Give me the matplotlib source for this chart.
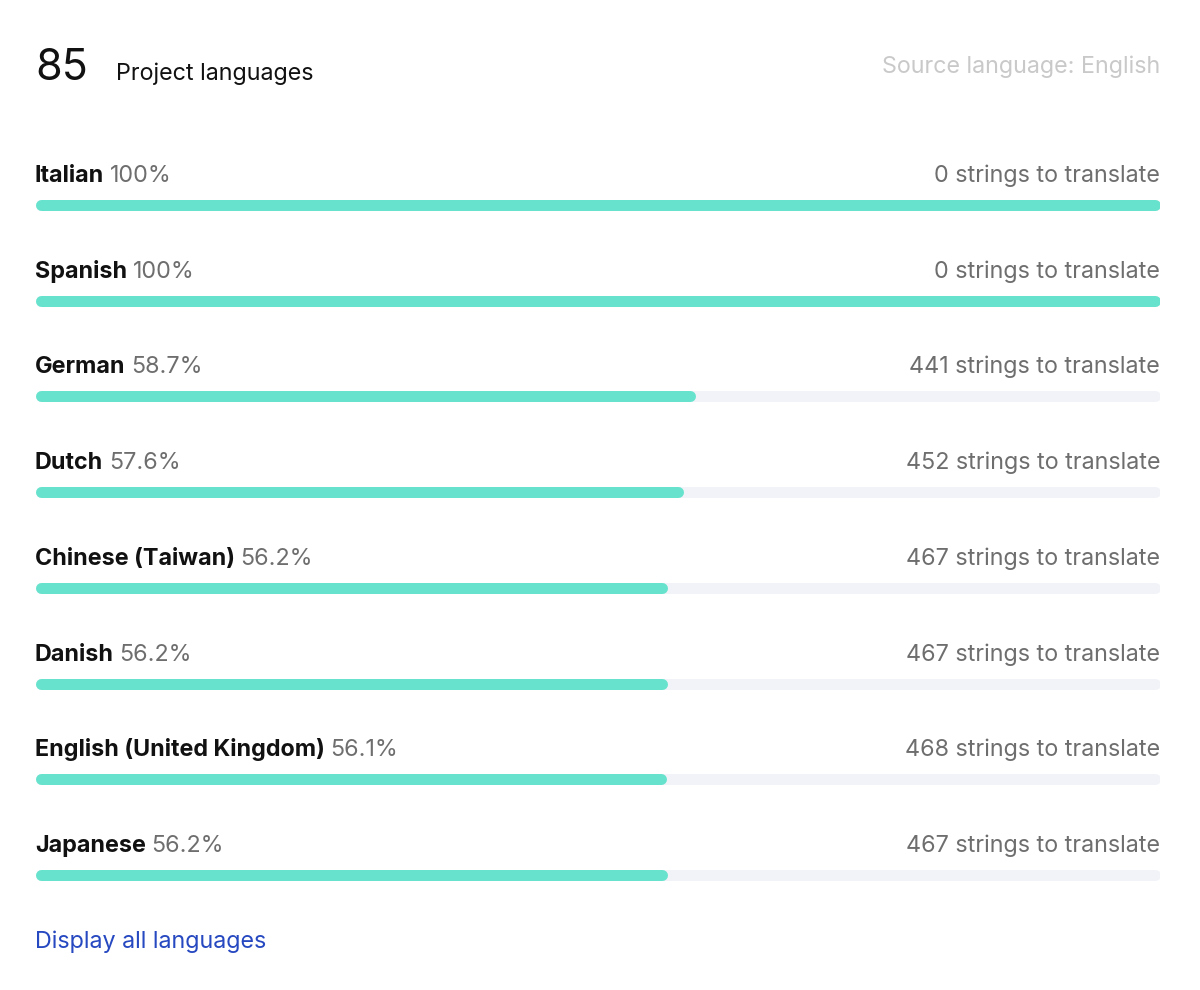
import matplotlib
matplotlib.use("Agg")
import matplotlib.pyplot as plt

# data
languages = ["Italian", "Spanish", "German", "Dutch", "Chinese (Taiwan)",
             "Danish", "English (United Kingdom)", "Japanese"]
pct_labels = ["100%", "100%", "58.7%", "57.6%", "56.2%", "56.2%", "56.1%", "56.2%"]
progress = [100, 100, 58.7, 57.6, 56.2, 56.2, 56.1, 56.2]
remaining = [0, 0, 441, 452, 467, 467, 468, 467]
project_count = 85
source_language = "English"

TEAL = "#67E3CD"
TRACK = "#F2F3F8"
GRAY = "#6E6E6E"
LIGHT = "#C9C9C9"
BLUE = "#2648C0"
FONT = "Inter"

plt.rcParams["font.family"] = [FONT, "DejaVu Sans"]

W, H, DPI = 1200, 990, 100
fig = plt.figure(figsize=(W / DPI, H / DPI), dpi=DPI)
fig.patch.set_facecolor("white")

# axes: x from 35px to 1160px, row centres from 205px to 875px
left, right = 35 / W, 1160 / W
row_h = (875 - 205) / 7
top_px = 205 - row_h / 2
bot_px = 875 + row_h / 2
ax = fig.add_axes([left, 1 - bot_px / H, right - left, (bot_px - top_px) / H])
ax.set_xlim(0, 100)
ax.set_ylim(len(languages) - 0.5, -0.5)
ax.axis("off")

bar_px = 11
lw = bar_px * 72 / DPI
r = (bar_px / 2) / ((right - left) * W) * 100  # cap radius in data units

fs = 16.8
for i, (name, lab, val, n) in enumerate(zip(languages, pct_labels, progress, remaining)):
    ax.plot([r, 100 - r], [i, i], color=TRACK, lw=lw, solid_capstyle="round")
    ax.plot([r, val - r], [i, i], color=TEAL, lw=lw, solid_capstyle="round")
    t = ax.text(0, i - 0.24, name, fontsize=fs, fontweight="bold", color="#111111",
                ha="left", va="baseline")
    ax.annotate(lab, xy=(1, 0), xycoords=t, xytext=(4, 0), textcoords="offset points",
                fontsize=fs, color=GRAY, ha="left", va="bottom")
    ax.text(100, i - 0.24, f"{n} strings to translate", fontsize=fs, color=GRAY,
            ha="right", va="baseline")

# header
hy = (80 - 205) / row_h
ax.text(0, hy, str(project_count), fontsize=31, color="#111111", ha="left", va="baseline")
ax.text(100 * (116 - 35) / 1125, hy, "Project languages", fontsize=fs, color="#111111",
        ha="left", va="baseline")
ax.text(100, (73 - 205) / row_h, f"Source language: {source_language}", fontsize=fs,
        color=LIGHT, ha="right", va="baseline")

# footer link
ax.text(0, (948 - 205) / row_h, "Display all languages", fontsize=fs, color=BLUE,
        ha="left", va="baseline")

fig.savefig("out.png", dpi=DPI, facecolor="white")
